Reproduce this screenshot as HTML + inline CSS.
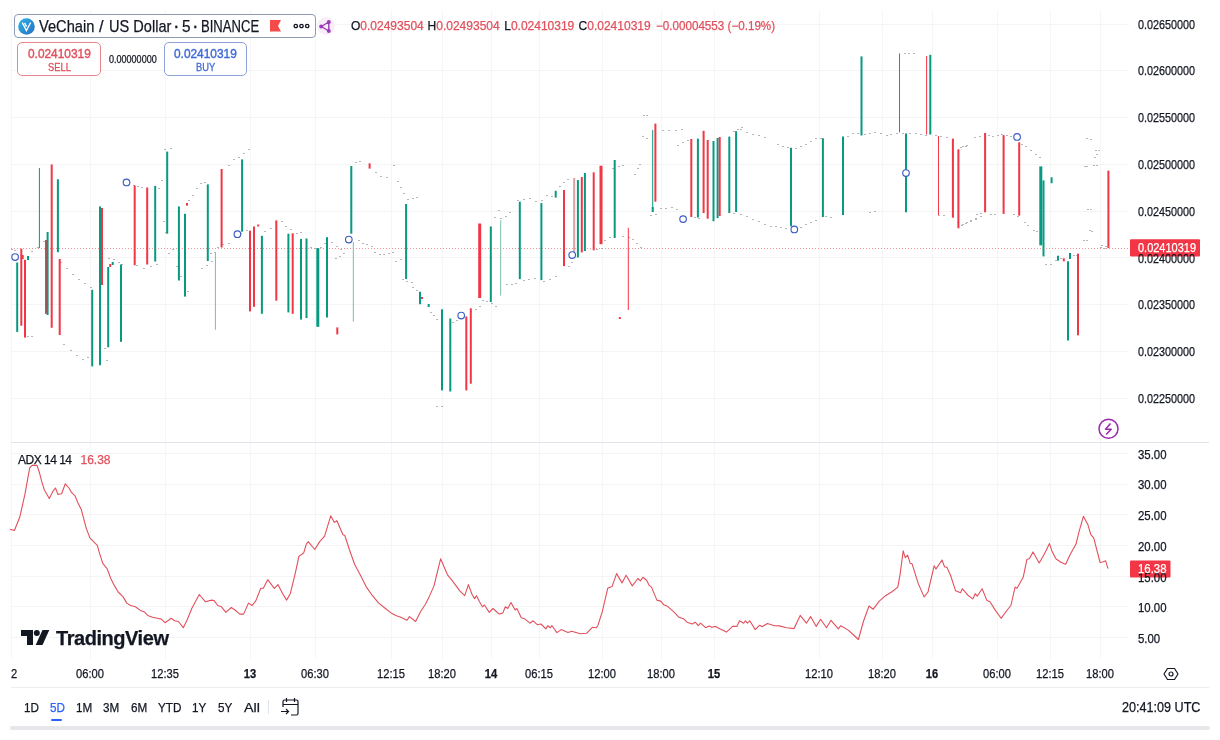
<!DOCTYPE html><html><head><meta charset="utf-8"><title>VeChain / US Dollar chart</title><style>
*{box-sizing:border-box}body{margin:0;width:1220px;height:740px;background:#fff;position:relative;overflow:hidden;font-family:"Liberation Sans",Arial,sans-serif;color:#131722}
.a{position:absolute;white-space:nowrap;line-height:1;-webkit-text-stroke:0.25px currentColor}

</style></head><body>
<svg width="1220" height="740" style="position:absolute;left:0;top:0"><path d="M11.5 10V659M90.5 10V659M165.5 10V659M250.5 10V659M315.5 10V659M391.5 10V659M442.5 10V659M491.5 10V659M539.5 10V659M602.5 10V659M661.5 10V659M714.5 10V659M819.5 10V659M882.5 10V659M932.5 10V659M997.5 10V659M1050.5 10V659M1100.5 10V659" stroke="#f6f6f7" stroke-width="1" fill="none"/>
<path d="M11 24.5H1129M11 70.5H1129M11 117.5H1129M11 164.5H1129M11 211.5H1129M11 257.5H1129M11 304.5H1129M11 351.5H1129M11 398.5H1129M11 453.5H1129M11 484.5H1129M11 514.5H1129M11 545.5H1129M11 576.5H1129M11 606.5H1129M11 637.5H1129" stroke="#f4f4f5" stroke-width="1" fill="none"/>
<path d="M11 442.5H1209" stroke="#e0e3eb" stroke-width="1"/><path d="M11 687.5H1209" stroke="#ebedf0" stroke-width="1"/>
<path d="M11 248.5H1130" stroke="#f23645" stroke-width="1" stroke-dasharray="1 2" opacity="0.55"/>
<g fill="#9aa0a6" opacity="0.75"><rect x="11" y="249" width="2" height="1"/><rect x="14" y="250" width="2" height="1"/><rect x="31" y="251" width="2" height="1"/><rect x="37" y="247" width="2" height="1"/><rect x="43" y="241" width="2" height="1"/><rect x="60" y="262" width="2" height="1"/><rect x="66" y="268" width="2" height="1"/><rect x="72" y="274" width="2" height="1"/><rect x="78" y="279" width="2" height="1"/><rect x="84" y="283" width="2" height="1"/><rect x="90" y="287" width="2" height="1"/><rect x="63" y="344" width="2" height="1"/><rect x="70" y="350" width="2" height="1"/><rect x="76" y="355" width="2" height="1"/><rect x="82" y="359" width="2" height="1"/><rect x="87" y="357" width="2" height="1"/><rect x="27" y="336" width="2" height="1"/><rect x="31" y="336" width="2" height="1"/><rect x="104" y="348" width="2" height="1"/><rect x="106" y="360" width="2" height="1"/><rect x="108" y="258" width="2" height="1"/><rect x="113" y="259" width="2" height="1"/><rect x="118" y="262" width="2" height="1"/><rect x="121" y="264" width="2" height="1"/><rect x="128" y="183" width="2" height="1"/><rect x="133" y="185" width="2" height="1"/><rect x="137" y="186" width="2" height="1"/><rect x="141" y="187" width="2" height="1"/><rect x="158" y="188" width="2" height="1"/><rect x="161" y="180" width="2" height="1"/><rect x="164" y="149" width="2" height="1"/><rect x="170" y="148" width="2" height="1"/><rect x="163" y="221" width="2" height="1"/><rect x="165" y="232" width="2" height="1"/><rect x="168" y="253" width="2" height="1"/><rect x="172" y="249" width="2" height="1"/><rect x="136" y="265" width="2" height="1"/><rect x="143" y="268" width="2" height="1"/><rect x="150" y="266" width="2" height="1"/><rect x="156" y="264" width="2" height="1"/><rect x="176" y="266" width="2" height="1"/><rect x="180" y="276" width="2" height="1"/><rect x="184" y="286" width="2" height="1"/><rect x="187" y="291" width="2" height="1"/><rect x="188" y="200" width="2" height="1"/><rect x="192" y="195" width="2" height="1"/><rect x="196" y="188" width="2" height="1"/><rect x="200" y="183" width="2" height="1"/><rect x="204" y="182" width="2" height="1"/><rect x="201" y="268" width="2" height="1"/><rect x="206" y="265" width="2" height="1"/><rect x="211" y="261" width="2" height="1"/><rect x="210" y="253" width="2" height="1"/><rect x="214" y="252" width="2" height="1"/><rect x="217" y="247" width="2" height="1"/><rect x="222" y="244" width="2" height="1"/><rect x="228" y="243" width="2" height="1"/><rect x="228" y="165" width="2" height="1"/><rect x="233" y="159" width="2" height="1"/><rect x="238" y="157" width="2" height="1"/><rect x="243" y="153" width="2" height="1"/><rect x="248" y="149" width="2" height="1"/><rect x="240" y="233" width="2" height="1"/><rect x="246" y="230" width="2" height="1"/><rect x="264" y="231" width="2" height="1"/><rect x="270" y="228" width="2" height="1"/><rect x="275" y="222" width="2" height="1"/><rect x="281" y="221" width="2" height="1"/><rect x="285" y="226" width="2" height="1"/><rect x="290" y="229" width="2" height="1"/><rect x="296" y="233" width="2" height="1"/><rect x="300" y="232" width="2" height="1"/><rect x="310" y="247" width="2" height="1"/><rect x="314" y="248" width="2" height="1"/><rect x="320" y="247" width="2" height="1"/><rect x="324" y="243" width="2" height="1"/><rect x="331" y="242" width="2" height="1"/><rect x="336" y="246" width="2" height="1"/><rect x="340" y="249" width="2" height="1"/><rect x="335" y="258" width="2" height="1"/><rect x="339" y="256" width="2" height="1"/><rect x="343" y="253" width="2" height="1"/><rect x="355" y="162" width="2" height="1"/><rect x="359" y="161" width="2" height="1"/><rect x="375" y="172" width="2" height="1"/><rect x="380" y="176" width="2" height="1"/><rect x="386" y="177" width="2" height="1"/><rect x="393" y="165" width="2" height="1"/><rect x="397" y="181" width="2" height="1"/><rect x="400" y="187" width="2" height="1"/><rect x="403" y="193" width="2" height="1"/><rect x="407" y="199" width="2" height="1"/><rect x="412" y="198" width="2" height="1"/><rect x="416" y="197" width="2" height="1"/><rect x="358" y="240" width="2" height="1"/><rect x="362" y="243" width="2" height="1"/><rect x="366" y="244" width="2" height="1"/><rect x="371" y="246" width="2" height="1"/><rect x="374" y="252" width="2" height="1"/><rect x="379" y="254" width="2" height="1"/><rect x="383" y="254" width="2" height="1"/><rect x="388" y="253" width="2" height="1"/><rect x="392" y="252" width="2" height="1"/><rect x="395" y="261" width="2" height="1"/><rect x="400" y="259" width="2" height="1"/><rect x="402" y="279" width="2" height="1"/><rect x="406" y="281" width="2" height="1"/><rect x="411" y="282" width="2" height="1"/><rect x="412" y="287" width="2" height="1"/><rect x="416" y="290" width="2" height="1"/><rect x="430" y="312" width="2" height="1"/><rect x="433" y="315" width="2" height="1"/><rect x="436" y="319" width="2" height="1"/><rect x="436" y="406" width="2" height="1"/><rect x="441" y="406" width="2" height="1"/><rect x="452" y="322" width="2" height="1"/><rect x="456" y="320" width="2" height="1"/><rect x="460" y="318" width="2" height="1"/><rect x="470" y="311" width="2" height="1"/><rect x="475" y="309" width="2" height="1"/><rect x="479" y="306" width="2" height="1"/><rect x="482" y="300" width="2" height="1"/><rect x="486" y="301" width="2" height="1"/><rect x="494" y="217" width="2" height="1"/><rect x="498" y="210" width="2" height="1"/><rect x="491" y="303" width="2" height="1"/><rect x="495" y="306" width="2" height="1"/><rect x="500" y="218" width="2" height="1"/><rect x="505" y="216" width="2" height="1"/><rect x="509" y="212" width="2" height="1"/><rect x="506" y="284" width="2" height="1"/><rect x="511" y="284" width="2" height="1"/><rect x="515" y="283" width="2" height="1"/><rect x="517" y="200" width="2" height="1"/><rect x="523" y="199" width="2" height="1"/><rect x="529" y="198" width="2" height="1"/><rect x="535" y="201" width="2" height="1"/><rect x="541" y="200" width="2" height="1"/><rect x="523" y="280" width="2" height="1"/><rect x="528" y="279" width="2" height="1"/><rect x="534" y="278" width="2" height="1"/><rect x="543" y="281" width="2" height="1"/><rect x="549" y="279" width="2" height="1"/><rect x="555" y="276" width="2" height="1"/><rect x="546" y="195" width="2" height="1"/><rect x="551" y="196" width="2" height="1"/><rect x="559" y="186" width="2" height="1"/><rect x="563" y="182" width="2" height="1"/><rect x="567" y="179" width="2" height="1"/><rect x="568" y="266" width="2" height="1"/><rect x="571" y="262" width="2" height="1"/><rect x="596" y="249" width="2" height="1"/><rect x="601" y="248" width="2" height="1"/><rect x="604" y="240" width="2" height="1"/><rect x="609" y="237" width="2" height="1"/><rect x="612" y="168" width="2" height="1"/><rect x="618" y="166" width="2" height="1"/><rect x="622" y="165" width="2" height="1"/><rect x="622" y="236" width="2" height="1"/><rect x="628" y="237" width="2" height="1"/><rect x="632" y="239" width="2" height="1"/><rect x="636" y="243" width="2" height="1"/><rect x="640" y="247" width="2" height="1"/><rect x="634" y="174" width="2" height="1"/><rect x="637" y="168" width="2" height="1"/><rect x="639" y="164" width="2" height="1"/><rect x="643" y="115" width="2" height="1"/><rect x="646" y="115" width="2" height="1"/><rect x="642" y="136" width="2" height="1"/><rect x="646" y="138" width="2" height="1"/><rect x="650" y="215" width="2" height="1"/><rect x="655" y="214" width="2" height="1"/><rect x="662" y="130" width="2" height="1"/><rect x="668" y="130" width="2" height="1"/><rect x="675" y="130" width="2" height="1"/><rect x="681" y="129" width="2" height="1"/><rect x="660" y="208" width="2" height="1"/><rect x="665" y="208" width="2" height="1"/><rect x="671" y="207" width="2" height="1"/><rect x="676" y="209" width="2" height="1"/><rect x="677" y="145" width="2" height="1"/><rect x="682" y="142" width="2" height="1"/><rect x="687" y="140" width="2" height="1"/><rect x="694" y="217" width="2" height="1"/><rect x="698" y="218" width="2" height="1"/><rect x="733" y="131" width="2" height="1"/><rect x="737" y="129" width="2" height="1"/><rect x="741" y="127" width="2" height="1"/><rect x="740" y="129" width="2" height="1"/><rect x="746" y="132" width="2" height="1"/><rect x="752" y="134" width="2" height="1"/><rect x="758" y="135" width="2" height="1"/><rect x="764" y="137" width="2" height="1"/><rect x="777" y="144" width="2" height="1"/><rect x="782" y="146" width="2" height="1"/><rect x="787" y="147" width="2" height="1"/><rect x="795" y="148" width="2" height="1"/><rect x="800" y="146" width="2" height="1"/><rect x="805" y="144" width="2" height="1"/><rect x="810" y="141" width="2" height="1"/><rect x="815" y="138" width="2" height="1"/><rect x="820" y="138" width="2" height="1"/><rect x="847" y="136" width="2" height="1"/><rect x="852" y="133" width="2" height="1"/><rect x="857" y="133" width="2" height="1"/><rect x="864" y="134" width="2" height="1"/><rect x="869" y="133" width="2" height="1"/><rect x="874" y="132" width="2" height="1"/><rect x="880" y="133" width="2" height="1"/><rect x="886" y="135" width="2" height="1"/><rect x="890" y="134" width="2" height="1"/><rect x="896" y="133" width="2" height="1"/><rect x="902" y="133" width="2" height="1"/><rect x="904" y="53" width="2" height="1"/><rect x="908" y="53" width="2" height="1"/><rect x="913" y="53" width="2" height="1"/><rect x="909" y="133" width="2" height="1"/><rect x="915" y="133" width="2" height="1"/><rect x="920" y="134" width="2" height="1"/><rect x="925" y="135" width="2" height="1"/><rect x="935" y="135" width="2" height="1"/><rect x="940" y="136" width="2" height="1"/><rect x="946" y="137" width="2" height="1"/><rect x="962" y="146" width="2" height="1"/><rect x="966" y="145" width="2" height="1"/><rect x="733" y="213" width="2" height="1"/><rect x="740" y="214" width="2" height="1"/><rect x="746" y="216" width="2" height="1"/><rect x="752" y="219" width="2" height="1"/><rect x="758" y="221" width="2" height="1"/><rect x="764" y="224" width="2" height="1"/><rect x="770" y="226" width="2" height="1"/><rect x="775" y="226" width="2" height="1"/><rect x="780" y="227" width="2" height="1"/><rect x="785" y="228" width="2" height="1"/><rect x="800" y="227" width="2" height="1"/><rect x="805" y="224" width="2" height="1"/><rect x="810" y="222" width="2" height="1"/><rect x="815" y="220" width="2" height="1"/><rect x="825" y="216" width="2" height="1"/><rect x="830" y="217" width="2" height="1"/><rect x="869" y="212" width="2" height="1"/><rect x="874" y="211" width="2" height="1"/><rect x="938" y="215" width="2" height="1"/><rect x="943" y="215" width="2" height="1"/><rect x="957" y="222" width="2" height="1"/><rect x="961" y="225" width="2" height="1"/><rect x="965" y="223" width="2" height="1"/><rect x="970" y="220" width="2" height="1"/><rect x="975" y="218" width="2" height="1"/><rect x="980" y="216" width="2" height="1"/><rect x="960" y="147" width="2" height="1"/><rect x="965" y="146" width="2" height="1"/><rect x="974" y="137" width="2" height="1"/><rect x="979" y="136" width="2" height="1"/><rect x="984" y="134" width="2" height="1"/><rect x="988" y="135" width="2" height="1"/><rect x="992" y="136" width="2" height="1"/><rect x="997" y="135" width="2" height="1"/><rect x="1001" y="134" width="2" height="1"/><rect x="1006" y="135" width="2" height="1"/><rect x="1010" y="136" width="2" height="1"/><rect x="1014" y="137" width="2" height="1"/><rect x="1021" y="144" width="2" height="1"/><rect x="1025" y="146" width="2" height="1"/><rect x="1030" y="150" width="2" height="1"/><rect x="1035" y="154" width="2" height="1"/><rect x="1039" y="157" width="2" height="1"/><rect x="962" y="224" width="2" height="1"/><rect x="966" y="222" width="2" height="1"/><rect x="970" y="221" width="2" height="1"/><rect x="975" y="219" width="2" height="1"/><rect x="976" y="214" width="2" height="1"/><rect x="980" y="213" width="2" height="1"/><rect x="990" y="214" width="2" height="1"/><rect x="994" y="214" width="2" height="1"/><rect x="1013" y="214" width="2" height="1"/><rect x="1017" y="216" width="2" height="1"/><rect x="1024" y="222" width="2" height="1"/><rect x="1027" y="225" width="2" height="1"/><rect x="1033" y="230" width="2" height="1"/><rect x="1036" y="231" width="2" height="1"/><rect x="1045" y="264" width="2" height="1"/><rect x="1050" y="264" width="2" height="1"/><rect x="1055" y="260" width="2" height="1"/><rect x="1060" y="258" width="2" height="1"/><rect x="1073" y="255" width="2" height="1"/><rect x="1076" y="255" width="2" height="1"/><rect x="1086" y="138" width="2" height="1"/><rect x="1090" y="139" width="2" height="1"/><rect x="1095" y="150" width="2" height="1"/><rect x="1098" y="150" width="2" height="1"/><rect x="1094" y="157" width="2" height="1"/><rect x="1096" y="154" width="2" height="1"/><rect x="1093" y="165" width="2" height="1"/><rect x="1096" y="165" width="2" height="1"/><rect x="1084" y="166" width="2" height="1"/><rect x="1086" y="166" width="2" height="1"/><rect x="1083" y="240" width="2" height="1"/><rect x="1086" y="240" width="2" height="1"/><rect x="1087" y="209" width="2" height="1"/><rect x="1090" y="209" width="2" height="1"/><rect x="1089" y="230" width="2" height="1"/><rect x="1091" y="231" width="2" height="1"/><rect x="1101" y="245" width="2" height="1"/><rect x="1105" y="246" width="2" height="1"/><rect x="1100" y="247" width="2" height="1"/><rect x="1104" y="248" width="2" height="1"/></g>
<rect x="16.2" y="262.5" width="2" height="69.4" fill="#089981"/><rect x="20.3" y="248.7" width="2" height="77" fill="#f23645"/><rect x="21.7" y="255" width="2" height="4" fill="#f23645"/><rect x="24" y="259.8" width="2" height="77.8" fill="#f23645"/><rect x="27" y="256" width="2" height="4" fill="#089981"/><rect x="38.9" y="168" width="1" height="80" fill="#089981"/><rect x="45" y="240" width="2" height="73.8" fill="#f23645"/><rect x="46.6" y="232" width="2" height="83" fill="#089981"/><rect x="50.7" y="164.5" width="2" height="163.3" fill="#f23645"/><rect x="56.9" y="179.3" width="2" height="72.9" fill="#089981"/><rect x="58.7" y="259" width="2" height="76" fill="#f23645"/><rect x="91.2" y="289.8" width="2" height="76.6" fill="#089981"/><rect x="99" y="206.4" width="2" height="158.8" fill="#089981"/><rect x="101" y="208" width="2" height="77" fill="#f23645"/><rect x="107.2" y="267" width="2" height="80.3" fill="#089981"/><rect x="109.2" y="264" width="2" height="3" fill="#f23645"/><rect x="111.7" y="262" width="2" height="3" fill="#089981"/><rect x="120" y="264.5" width="2" height="77.3" fill="#089981"/><rect x="133.7" y="185.5" width="2" height="79.7" fill="#f23645"/><rect x="146.2" y="187.5" width="2" height="77" fill="#f23645"/><rect x="154.2" y="185.9" width="2" height="75.6" fill="#089981"/><rect x="166.2" y="151.6" width="2" height="82.1" fill="#089981"/><rect x="177.9" y="206.4" width="2" height="74.1" fill="#089981"/><rect x="184" y="213.8" width="2" height="82.8" fill="#089981"/><rect x="186" y="203" width="2" height="2.6" fill="#f23645"/><rect x="206.8" y="184.4" width="2" height="76.6" fill="#089981"/><rect x="214.9" y="253" width="1" height="76.8" fill="#7cbcae"/><rect x="220.6" y="169" width="2" height="78.5" fill="#f23645"/><rect x="241.1" y="159.4" width="2" height="72.3" fill="#089981"/><rect x="249" y="230.7" width="2" height="80.7" fill="#f23645"/><rect x="253" y="226.5" width="2" height="80.3" fill="#f23645"/><rect x="257.2" y="224.5" width="2" height="2" fill="#f23645"/><rect x="260.9" y="235.8" width="2" height="78" fill="#089981"/><rect x="275.3" y="220.4" width="2" height="80.3" fill="#f23645"/><rect x="287.4" y="233.7" width="2" height="78.7" fill="#089981"/><rect x="291.7" y="233.3" width="2" height="80.5" fill="#f23645"/><rect x="300" y="238.9" width="2" height="80.7" fill="#089981"/><rect x="305.5" y="238.5" width="2" height="79.6" fill="#089981"/><rect x="316.3" y="248.1" width="3" height="78.7" fill="#089981"/><rect x="326" y="237.2" width="2" height="80.3" fill="#089981"/><rect x="336.3" y="327.4" width="2" height="7" fill="#f23645"/><rect x="350.3" y="166" width="2" height="67.7" fill="#089981"/><rect x="352.8" y="242" width="1" height="79.6" fill="#7cbcae"/><rect x="368.6" y="163.3" width="2" height="5.3" fill="#f23645"/><rect x="405.1" y="204" width="2" height="75" fill="#089981"/><rect x="419" y="291.8" width="2" height="12.4" fill="#089981"/><rect x="421" y="297" width="2" height="2" fill="#f23645"/><rect x="427.7" y="304" width="2" height="3" fill="#089981"/><rect x="441" y="309.3" width="2" height="81.1" fill="#089981"/><rect x="449.3" y="318.5" width="2" height="73" fill="#089981"/><rect x="465.3" y="316.5" width="2" height="73.9" fill="#f23645"/><rect x="469.8" y="308.3" width="2" height="75.4" fill="#f23645"/><rect x="478.2" y="223.5" width="3" height="74.5" fill="#f23645"/><rect x="489.8" y="226.5" width="2" height="75.6" fill="#089981"/><rect x="500.2" y="220.2" width="1" height="75.3" fill="#7cbcae"/><rect x="518.8" y="201.7" width="2" height="77.4" fill="#089981"/><rect x="540.4" y="203.1" width="2" height="77" fill="#089981"/><rect x="554.7" y="190.8" width="2" height="6.8" fill="#089981"/><rect x="563" y="190" width="2" height="76.1" fill="#f23645"/><rect x="573.2" y="178" width="2" height="77.5" fill="#d9a0a6"/><rect x="576.9" y="180" width="2" height="77.5" fill="#089981"/><rect x="580.8" y="177" width="2" height="75.4" fill="#f23645"/><rect x="583.9" y="173" width="2" height="78" fill="#089981"/><rect x="592.7" y="172.3" width="2" height="78" fill="#f23645"/><rect x="599.5" y="165.7" width="3" height="78.5" fill="#f23645"/><rect x="613.7" y="160" width="2" height="78" fill="#089981"/><rect x="627.8" y="227.7" width="1" height="82.3" fill="#f23645"/><rect x="618.8" y="317" width="2" height="2" fill="#f23645"/><rect x="652.2" y="129.8" width="1" height="82.2" fill="#089981"/><rect x="651.7" y="207" width="2" height="5" fill="#089981"/><rect x="654.4" y="123.6" width="2" height="78.1" fill="#f23645"/><rect x="690.3" y="139" width="2" height="78" fill="#f23645"/><rect x="696.9" y="138.6" width="2" height="78.9" fill="#089981"/><rect x="702.6" y="130.8" width="2" height="82.2" fill="#f23645"/><rect x="706.7" y="140" width="2" height="78.7" fill="#f23645"/><rect x="712.5" y="141" width="2" height="80.2" fill="#089981"/><rect x="716.6" y="138" width="2" height="80.1" fill="#089981"/><rect x="718.7" y="137" width="2" height="79" fill="#f23645"/><rect x="728.3" y="136.6" width="2" height="76.4" fill="#089981"/><rect x="735.1" y="131.2" width="2" height="80.8" fill="#089981"/><rect x="790" y="147.8" width="2" height="78.5" fill="#089981"/><rect x="821.9" y="138.2" width="2" height="78.8" fill="#089981"/><rect x="842" y="136.5" width="2" height="78.5" fill="#089981"/><rect x="860.5" y="56.4" width="2" height="79.1" fill="#089981"/><rect x="899" y="53.4" width="1" height="79" fill="#f23645"/><rect x="926.1" y="56" width="1" height="78.5" fill="#f23645"/><rect x="929.3" y="54.8" width="2" height="79.7" fill="#089981"/><rect x="905" y="133.5" width="2" height="78.8" fill="#089981"/><rect x="938" y="136" width="1" height="79" fill="#f23645"/><rect x="951.9" y="138.6" width="2" height="79.1" fill="#f23645"/><rect x="957.4" y="149.3" width="2" height="79" fill="#f23645"/><rect x="984.1" y="133" width="2" height="79.3" fill="#f23645"/><rect x="1002.6" y="135.1" width="2" height="78.8" fill="#f23645"/><rect x="1018.2" y="142.3" width="2" height="73.3" fill="#f23645"/><rect x="1039.3" y="166.4" width="3" height="78.9" fill="#089981"/><rect x="1042.5" y="180.4" width="2" height="76" fill="#089981"/><rect x="1050.6" y="177.3" width="2" height="5.9" fill="#089981"/><rect x="1057" y="255.7" width="2" height="4.9" fill="#089981"/><rect x="1062.8" y="258.3" width="2" height="3" fill="#f23645"/><rect x="1067" y="261.3" width="2" height="79.2" fill="#089981"/><rect x="1069" y="253" width="2" height="6" fill="#089981"/><rect x="1077" y="253.6" width="2" height="81.7" fill="#f23645"/><rect x="1107.4" y="170.6" width="2" height="77.5" fill="#f23645"/>
<g fill="#fff" stroke="#3c5cc4" stroke-width="1.15"><circle cx="15.1" cy="257" r="3.3"/><circle cx="126.5" cy="182.4" r="3.3"/><circle cx="237.4" cy="234.2" r="3.3"/><circle cx="348.8" cy="239.5" r="3.3"/><circle cx="461.2" cy="315.5" r="3.3"/><circle cx="572.2" cy="255" r="3.3"/><circle cx="683.1" cy="219.1" r="3.3"/><circle cx="794.3" cy="229.4" r="3.3"/><circle cx="906" cy="173" r="3.3"/><circle cx="1017.1" cy="136.9" r="3.3"/></g>
<polyline points="10,529.3 14.4,530.5 19.8,517 24.8,494.9 29.7,467.8 32.1,465.4 37,465.4 39.5,472.8 42,482.6 44.4,490 49.3,498.6 53,491.2 55.5,488 57.9,494.4 61.6,493.7 65.3,483.8 69,488 71.5,492.4 75.2,496.1 77.6,502.3 81.3,509.6 86.2,528.1 89.9,537.9 93.6,541.6 97.3,545.3 99.7,553.9 102.9,563.7 107.1,568.6 110.8,578.5 114.5,585.9 118.2,592 123.1,596.9 126.8,603.1 130.5,605.5 135.4,606.8 140.3,610.4 144,611.7 147.7,615.4 152.6,617.3 157.5,618.3 161.2,619.1 164.9,622.7 168.6,620.3 171.1,618.3 174.7,620.8 178.4,621.5 183.3,627.7 187,620.3 192,608 199.3,594.5 205.5,601.8 211.6,600.1 214.1,600.6 217.8,605.5 221.5,606.8 225.9,612.4 231.3,607.5 235,610 239.9,614.1 243.6,614.1 248.5,603.1 252.2,605.5 255.9,600.6 260.8,588.3 263.3,588.3 267.7,579.7 274.3,588.3 278,584.6 282.4,593.2 286.6,600.1 290.3,593.7 295.2,573.6 298.9,556.4 303.8,552.7 306.3,544.1 308.3,541.6 308.6,542.1 314.8,549.5 319.7,541.6 324.6,536.2 330.7,515.8 334.4,522.4 336.9,520.7 340.6,529.3 343,534.7 344.8,535.5 349.2,549 354.6,564.2 360.2,574.8 366.4,587.1 372.5,595.7 378.7,603.1 384.8,608 391,612.9 395.9,615.4 400.8,617.3 407,620.3 409.4,616.6 415.6,621.5 420.5,611.7 425.4,604.3 429.1,596.9 434,585.9 440.6,558.8 443.8,566.2 447.5,574.8 452.4,580.9 459.8,590.8 464.7,595.7 468.4,584.6 472.1,594.5 474.6,598.6 476.5,595.7 479.5,601.8 482.4,606.8 484.4,605 489.3,612.4 493,608.5 499.2,614.1 502.9,612.9 505.3,606.8 507.8,608.5 511,602.6 515.1,610 516.9,608.5 521.3,617.8 525,619.1 529.9,623.2 533.1,620.8 537.3,624.7 541,624 545.9,628.9 547.8,625.7 550.3,627.7 552,625.7 556.9,632.6 561.1,629.6 568,632.6 571.7,631.3 580.3,633.8 586.5,633.3 592.6,627.2 596.3,627.7 598,625.2 602.3,611.7 607.7,588.3 612.1,586.4 616.6,573.6 622,582.9 626.1,575.3 632.3,585.9 637.9,578.5 640.4,580.9 642.9,577.3 646.6,580.2 649,585.1 651.5,587.1 656.9,600.1 660.8,601.1 663.8,604.8 667.5,606.3 673.6,611.7 679,617.3 683.9,619.1 687.1,622.2 692,624 695.2,622.2 698.2,625.7 700.6,623.2 705.6,627.7 709.3,625.9 711.7,627.2 715.4,626.4 720.3,628.9 726.5,632.1 732.6,626.4 737,626.4 739.5,620.8 743.7,623.2 745.4,620.8 747.4,623.2 749.8,620.8 755.2,629.6 759.7,625.2 762.1,626.7 767.5,623.5 774.4,625.7 779.3,625.9 786.7,627.7 794.1,628.6 800.2,615.4 806.4,623.2 810.6,616.6 816.2,626.4 820.6,619.3 826.5,627.7 831,620.3 838.3,628.9 840.8,625.7 848.2,630.1 853.1,634.5 858.4,639.5 863.4,621.5 869,606 873.2,609.2 879.3,601.1 885.5,595.7 891.6,592 897.8,587.1 900.2,573.6 903.2,550.9 905.2,557.6 907.6,555.1 910.1,563.2 912,563.7 918.2,583.4 924.1,596.9 928,592 934.2,565.7 935.9,569.1 942,560 944.5,566.7 947,567.4 950.6,575.5 955.6,590.8 960.5,592.7 962.4,588.8 967.9,595.2 972.8,598.9 975.2,593.7 977.2,596.2 982.1,588.8 987,600.6 990,601.8 995.4,610.4 1001.1,618.3 1007.2,610 1010.9,605.5 1015.1,587.1 1017,588.3 1023.2,577.3 1026.9,559.3 1029.3,558.8 1033,551.9 1039.2,563 1044.1,554.4 1049.5,543.6 1051.9,550.9 1055.9,558.8 1061.3,562.5 1065.7,564.2 1069.9,555.1 1076,544.1 1079,531.8 1083.4,516.3 1087.8,524.4 1090.8,534.7 1093.7,537.9 1100.1,562.5 1102.6,562 1105.6,560.8 1108,568.6" fill="none" stroke="#e2505c" stroke-width="1.1" stroke-linejoin="round"/>
<circle cx="1108.5" cy="428.8" r="9.5" fill="#fff" stroke="#9c27b0" stroke-width="1.5"/>
<path d="M1110.5 423.5L1105.5 429.2H1111.2L1106.2 434.5" fill="none" stroke="#9c27b0" stroke-width="1.5" stroke-linejoin="round"/>
<rect x="1130" y="239.3" width="70" height="17.3" rx="1" fill="#f23645"/>
<rect x="1130" y="560.5" width="40.5" height="17" rx="1" fill="#f23645"/>
<rect x="10" y="726" width="1200" height="4" rx="2" fill="#e6e7ea"/></svg>
<div class="a" style="left:1137.8px;top:18.6px;font-size:12px;color:#131722;transform:scaleX(0.9);transform-origin:0 0;">0.02650000</div>
<div class="a" style="left:1137.8px;top:65.4px;font-size:12px;color:#131722;transform:scaleX(0.9);transform-origin:0 0;">0.02600000</div>
<div class="a" style="left:1137.8px;top:112.2px;font-size:12px;color:#131722;transform:scaleX(0.9);transform-origin:0 0;">0.02550000</div>
<div class="a" style="left:1137.8px;top:159.0px;font-size:12px;color:#131722;transform:scaleX(0.9);transform-origin:0 0;">0.02500000</div>
<div class="a" style="left:1137.8px;top:205.8px;font-size:12px;color:#131722;transform:scaleX(0.9);transform-origin:0 0;">0.02450000</div>
<div class="a" style="left:1137.8px;top:252.6px;font-size:12px;color:#131722;transform:scaleX(0.9);transform-origin:0 0;">0.02400000</div>
<div class="a" style="left:1137.8px;top:299.4px;font-size:12px;color:#131722;transform:scaleX(0.9);transform-origin:0 0;">0.02350000</div>
<div class="a" style="left:1137.8px;top:346.2px;font-size:12px;color:#131722;transform:scaleX(0.9);transform-origin:0 0;">0.02300000</div>
<div class="a" style="left:1137.8px;top:393.0px;font-size:12px;color:#131722;transform:scaleX(0.9);transform-origin:0 0;">0.02250000</div>
<div class="a" style="left:1137.5px;top:242.2px;font-size:12px;color:#fff;transform:scaleX(0.915);transform-origin:0 0;-webkit-text-stroke:0.25px #fff;">0.02410319</div>
<div class="a" style="left:1138.3px;top:448.7px;font-size:12px;color:#131722;transform:scaleX(0.95);transform-origin:0 0;">35.00</div>
<div class="a" style="left:1138.3px;top:479.4px;font-size:12px;color:#131722;transform:scaleX(0.95);transform-origin:0 0;">30.00</div>
<div class="a" style="left:1138.3px;top:510.1px;font-size:12px;color:#131722;transform:scaleX(0.95);transform-origin:0 0;">25.00</div>
<div class="a" style="left:1138.3px;top:540.8px;font-size:12px;color:#131722;transform:scaleX(0.95);transform-origin:0 0;">20.00</div>
<div class="a" style="left:1138.3px;top:571.5px;font-size:12px;color:#131722;transform:scaleX(0.95);transform-origin:0 0;">15.00</div>
<div class="a" style="left:1138.3px;top:602.2px;font-size:12px;color:#131722;transform:scaleX(0.95);transform-origin:0 0;">10.00</div>
<div class="a" style="left:1138.3px;top:632.9px;font-size:12px;color:#131722;transform:scaleX(0.95);transform-origin:0 0;">5.00</div>
<div class="a" style="left:1137.8px;top:563px;font-size:12px;color:#fff;transform:scaleX(0.95);transform-origin:0 0;">16.38</div>
<div class="a" style="left:14px;top:667.5px;font-size:12px;transform:translateX(-50%) scaleX(0.93)">2</div>
<div class="a" style="left:90px;top:667.5px;font-size:12px;transform:translateX(-50%) scaleX(0.93)">06:00</div>
<div class="a" style="left:165px;top:667.5px;font-size:12px;transform:translateX(-50%) scaleX(0.93)">12:35</div>
<div class="a" style="left:250px;top:667.5px;font-size:12px;font-weight:bold;transform:translateX(-50%) scaleX(0.93)">13</div>
<div class="a" style="left:315px;top:667.5px;font-size:12px;transform:translateX(-50%) scaleX(0.93)">06:30</div>
<div class="a" style="left:391px;top:667.5px;font-size:12px;transform:translateX(-50%) scaleX(0.93)">12:15</div>
<div class="a" style="left:442px;top:667.5px;font-size:12px;transform:translateX(-50%) scaleX(0.93)">18:20</div>
<div class="a" style="left:491px;top:667.5px;font-size:12px;font-weight:bold;transform:translateX(-50%) scaleX(0.93)">14</div>
<div class="a" style="left:539px;top:667.5px;font-size:12px;transform:translateX(-50%) scaleX(0.93)">06:15</div>
<div class="a" style="left:602px;top:667.5px;font-size:12px;transform:translateX(-50%) scaleX(0.93)">12:00</div>
<div class="a" style="left:661px;top:667.5px;font-size:12px;transform:translateX(-50%) scaleX(0.93)">18:00</div>
<div class="a" style="left:714px;top:667.5px;font-size:12px;font-weight:bold;transform:translateX(-50%) scaleX(0.93)">15</div>
<div class="a" style="left:819px;top:667.5px;font-size:12px;transform:translateX(-50%) scaleX(0.93)">12:10</div>
<div class="a" style="left:882px;top:667.5px;font-size:12px;transform:translateX(-50%) scaleX(0.93)">18:20</div>
<div class="a" style="left:932px;top:667.5px;font-size:12px;font-weight:bold;transform:translateX(-50%) scaleX(0.93)">16</div>
<div class="a" style="left:997px;top:667.5px;font-size:12px;transform:translateX(-50%) scaleX(0.93)">06:00</div>
<div class="a" style="left:1050px;top:667.5px;font-size:12px;transform:translateX(-50%) scaleX(0.93)">12:15</div>
<div class="a" style="left:1100px;top:667.5px;font-size:12px;transform:translateX(-50%) scaleX(0.93)">18:00</div>
<svg class="a" style="left:1163px;top:666px" width="16" height="16" viewBox="0 0 16 16"><path d="M4.5 2.5h7l3.5 5.5-3.5 5.5h-7L1 8z" fill="none" stroke="#131722" stroke-width="1.2" stroke-linejoin="round"/><circle cx="8" cy="8" r="2" fill="none" stroke="#131722" stroke-width="1.2"/></svg>
<div class="a" style="left:14px;top:14px;width:302px;height:24px;border:1px solid #8e9bb4;border-radius:4px;background:#fff"></div>
<svg class="a" style="left:18px;top:17.5px" width="17" height="17" viewBox="0 0 17 17"><defs><linearGradient id="vg" x1="0" y1="0" x2="1" y2="1"><stop offset="0" stop-color="#2bb3e6"/><stop offset="1" stop-color="#2a6fc4"/></linearGradient></defs><circle cx="8.5" cy="8.5" r="8.3" fill="url(#vg)"/><path d="M4.3 4.6L8.4 12.6L12.6 4.6M6.6 4.9L8.5 8.6" fill="none" stroke="#fff" stroke-width="1.3"/></svg>
<div class="a" style="left:38.5px;top:18.2px;font-size:16.2px;color:#131722;transform:scaleX(0.905);transform-origin:0 0;">VeChain</div>
<div class="a" style="left:99px;top:18.2px;font-size:16.2px;color:#131722;">/</div>
<div class="a" style="left:109.2px;top:18.2px;font-size:16.2px;color:#131722;transform:scaleX(0.9);transform-origin:0 0;">US Dollar</div>
<div class="a" style="left:172.9px;top:16.0px;font-size:19.5px;color:#131722;">·</div>
<div class="a" style="left:181.6px;top:18.2px;font-size:16.2px;color:#131722;transform:scaleX(0.95);transform-origin:0 0;">5</div>
<div class="a" style="left:192px;top:16.0px;font-size:19.5px;color:#131722;">·</div>
<div class="a" style="left:201px;top:18.2px;font-size:16.2px;color:#131722;transform:scaleX(0.808);transform-origin:0 0;">BINANCE</div>
<svg class="a" style="left:270px;top:20px" width="12" height="12" viewBox="0 0 12 12"><path d="M0 0H11L8 6L11 11.6H0Z" fill="#f44a4a"/></svg>
<svg class="a" style="left:293px;top:23px" width="17" height="6" viewBox="0 0 17 6"><g fill="none" stroke="#131722" stroke-width="1.3"><circle cx="2.8" cy="3" r="1.7"/><circle cx="8.5" cy="3" r="1.7"/><circle cx="14.2" cy="3" r="1.7"/></g></svg>
<div class="a" style="left:317px;top:17px;width:18px;height:18px;border-radius:50%;background:#f8eefa"></div>
<svg class="a" style="left:319px;top:19.5px" width="12" height="13" viewBox="0 0 12 13"><g fill="none" stroke="#9c3bb8" stroke-width="1.4" stroke-linejoin="round"><path d="M9.8 2L2.3 6.5L9.8 11z"/></g><g fill="#9c3bb8"><circle cx="9.8" cy="2" r="2"/><circle cx="2.2" cy="6.5" r="2"/><circle cx="9.8" cy="11" r="2"/></g></svg>
<div class="a" style="left:351px;top:20px;font-size:12px;color:#131722;">O<span style="color:#e2505c">0.02493504</span></div>
<div class="a" style="left:427.6px;top:20px;font-size:12px;color:#131722;">H<span style="color:#e2505c">0.02493504</span></div>
<div class="a" style="left:504.2px;top:20px;font-size:12px;color:#131722;">L<span style="color:#e2505c">0.02410319</span></div>
<div class="a" style="left:578.6px;top:20px;font-size:12px;color:#131722;">C<span style="color:#e2505c">0.02410319</span></div>
<div class="a" style="left:656px;top:20px;font-size:12px;color:#e2505c;transform:scaleX(0.97);transform-origin:0 0;">−0.00004553 (−0.19%)</div>
<div class="a" style="left:17px;top:42px;width:84px;height:34px;border:1px solid #e5868e;border-radius:5px;background:#fff"></div>
<div class="a" style="left:27.8px;top:47.5px;font-size:12px;color:#e2505c;transform:scaleX(0.99);transform-origin:0 0;-webkit-text-stroke:0.4px #e2505c;">0.02410319</div>
<div class="a" style="left:47.5px;top:62px;font-size:11px;color:#e2505c;transform:scaleX(0.85);transform-origin:0 0;-webkit-text-stroke:0.3px #e2505c;">SELL</div>
<div class="a" style="left:108.5px;top:53.5px;font-size:10.5px;color:#131722;transform:scaleX(0.86);transform-origin:0 0;">0.00000000</div>
<div class="a" style="left:164px;top:42px;width:83px;height:34px;border:1px solid #8da2d8;border-radius:5px;background:#fff"></div>
<div class="a" style="left:174.2px;top:47.5px;font-size:12px;color:#3f6ad8;transform:scaleX(0.99);transform-origin:0 0;-webkit-text-stroke:0.4px #3f6ad8;">0.02410319</div>
<div class="a" style="left:195.5px;top:61.5px;font-size:11px;color:#3f6ad8;transform:scaleX(0.85);transform-origin:0 0;-webkit-text-stroke:0.3px #3f6ad8;">BUY</div>
<div class="a" style="left:18px;top:454px;font-size:12px;color:#131722;letter-spacing:-0.5px;">ADX 14 14</div>
<div class="a" style="left:80.5px;top:454px;font-size:12px;color:#e2505c;">16.38</div>
<svg class="a" style="left:21px;top:630px" width="29" height="16" viewBox="0 0 29 16"><path d="M0 0H12V15H6V6H0Z" fill="#131722"/><circle cx="15.8" cy="3.1" r="3" fill="#131722"/><path d="M21.5 0H28.3L21.5 15H14.7Z" fill="#131722"/></svg>
<div class="a" style="left:56px;top:628px;font-size:20px;color:#131722;font-weight:700;letter-spacing:-0.45px;">TradingView</div>
<div class="a" style="left:23.5px;top:700.5px;font-size:13px;color:#131722;transform:scaleX(0.9);transform-origin:0 0;">1D</div>
<div class="a" style="left:49.5px;top:700.5px;font-size:13px;color:#2962ff;transform:scaleX(0.9);transform-origin:0 0;">5D</div>
<div class="a" style="left:75.5px;top:700.5px;font-size:13px;color:#131722;transform:scaleX(0.9);transform-origin:0 0;">1M</div>
<div class="a" style="left:103px;top:700.5px;font-size:13px;color:#131722;transform:scaleX(0.9);transform-origin:0 0;">3M</div>
<div class="a" style="left:130.8px;top:700.5px;font-size:13px;color:#131722;transform:scaleX(0.9);transform-origin:0 0;">6M</div>
<div class="a" style="left:157.5px;top:700.5px;font-size:13px;color:#131722;transform:scaleX(0.9);transform-origin:0 0;">YTD</div>
<div class="a" style="left:192px;top:700.5px;font-size:13px;color:#131722;transform:scaleX(0.9);transform-origin:0 0;">1Y</div>
<div class="a" style="left:217.5px;top:700.5px;font-size:13px;color:#131722;transform:scaleX(0.9);transform-origin:0 0;">5Y</div>
<div class="a" style="left:243.5px;top:700.5px;font-size:13px;color:#131722;transform:scaleX(1.1);transform-origin:0 0;">All</div>
<div class="a" style="left:51px;top:718.5px;width:11px;height:2px;background:#2962ff;border-radius:1px"></div>
<div class="a" style="left:267.5px;top:700px;width:1px;height:14px;background:#e0e3eb"></div>
<svg class="a" style="left:280px;top:697px" width="20" height="19" viewBox="0 0 20 19"><g fill="none" stroke="#131722" stroke-width="1.2"><path d="M3 10V4.5Q3 3 4.5 3H16.5Q18 3 18 4.5V16.5Q18 18 16.5 18H11"/><path d="M3 7.5H18M6.5 1V5M14.5 1V5"/><path d="M1 14.5H8.5M6 12L8.5 14.5L6 17"/></g></svg>
<div class="a" style="left:1121.5px;top:699.5px;font-size:14px;color:#131722;transform:scaleX(0.9);transform-origin:0 0;">20:41:09 UTC</div>
</body></html>
